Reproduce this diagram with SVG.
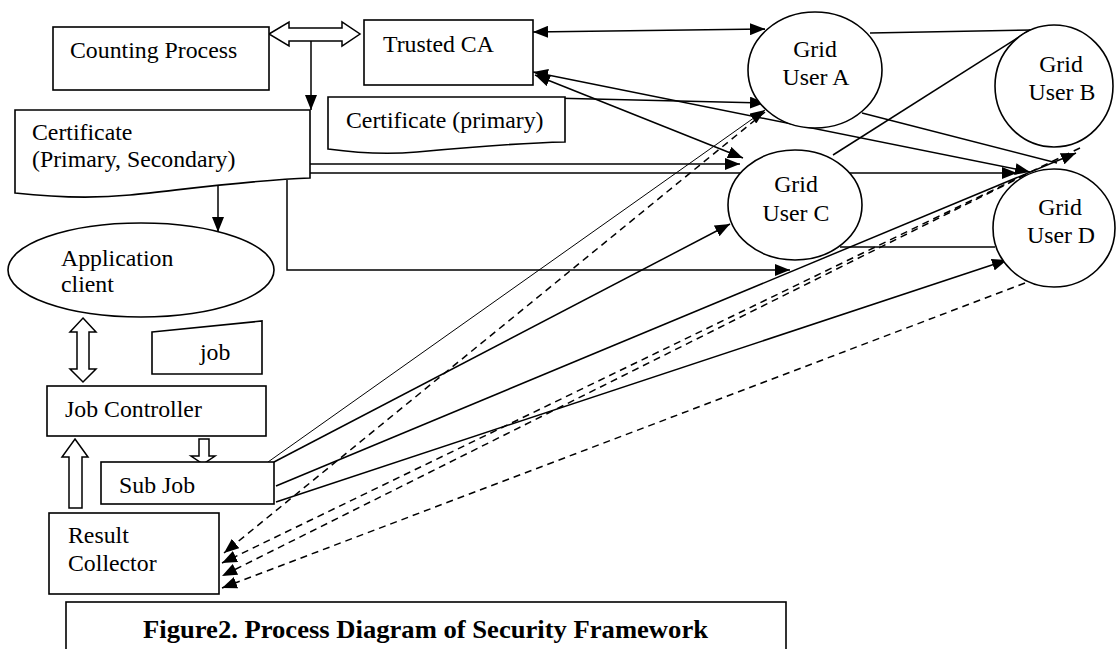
<svg xmlns="http://www.w3.org/2000/svg" width="1116" height="649" viewBox="0 0 1116 649">
<style>
text{font-family:"Liberation Serif","Times New Roman",serif;font-size:23.8px;fill:#000}
.n{fill:#fff;stroke:#000;stroke-width:1.6}
.c{fill:none;stroke:#000;stroke-width:1.5}
.t{fill:none;stroke:#000;stroke-width:1}
.d{fill:none;stroke:#000;stroke-width:1.5;stroke-dasharray:7 5}
.h{fill:#fff;stroke:#000;stroke-width:1.5}
.mid{text-anchor:middle}
.cap{font-weight:bold;font-size:26px}
</style>
<defs>
<marker id="ah" markerUnits="userSpaceOnUse" markerWidth="15" markerHeight="12" refX="15" refY="6" orient="auto-start-reverse" viewBox="0 0 15 12"><path d="M0,0 L15,6 L0,12 z" fill="#000"/></marker>
</defs>
<rect width="1116" height="649" fill="#fff"/>
<g id="connectors">
<path class="c" d="M533,32 L765,29" marker-start="url(#ah)" marker-end="url(#ah)"/>
<path class="c" d="M535,75 L743,158" marker-start="url(#ah)" marker-end="url(#ah)"/>
<path class="c" d="M533,72 L1030,172" marker-start="url(#ah)" marker-end="url(#ah)"/>
<path class="c" d="M550,98 L765,103" marker-end="url(#ah)"/>
<path class="c" d="M310,164 L740,164" marker-end="url(#ah)"/>
<path class="c" d="M310,173 L1017,173" marker-end="url(#ah)"/>
<path class="c" d="M287,180 V270 H790" marker-end="url(#ah)"/>
<path class="c" d="M218,186 V232" marker-end="url(#ah)"/>
<path class="c" d="M311,41 V110" marker-end="url(#ah)"/>
<path class="t" d="M268,462 L765,110" marker-end="url(#ah)"/>
<path class="c" d="M274,462 L730,224" marker-end="url(#ah)"/>
<path class="c" d="M276,486 L1076,153" marker-end="url(#ah)"/>
<path class="c" d="M276,502 L1007,260" marker-end="url(#ah)"/>
<path class="c" d="M870,33 L1033,30"/>
<path class="c" d="M833,155 L1030,30"/>
<path class="c" d="M862,113 L1057,163"/>
<path class="c" d="M840,247 L995,247"/>
<path class="d" d="M765,112 L224,553" marker-end="url(#ah)"/>
<path class="d" d="M1080,148 L222,563" marker-end="url(#ah)"/>
<path class="d" d="M1025,175 L222,576" marker-end="url(#ah)"/>
<path class="d" d="M1025,283 L222,588" marker-end="url(#ah)"/>
<polygon class="h" points="269,34 289,22 289,28 342,28 342,22 360,34 342,46 342,41 289,41 289,46"/>
<polygon class="h" points="83,318 96,332 89,332 89,369 96,369 83,382 70,369 77,369 77,332 70,332"/>
<polygon class="h" points="199,439 209,439 209,456 215,456 203,464 191,456 199,456"/>
<polygon class="h" points="75,439 88,457 82,457 82,508 69,508 69,457 62,457"/>
</g>
<g id="counting-process">
<rect class="n" x="53" y="27" width="216" height="63"/>
<text x="70" y="58">Counting Process</text>
</g>
<g id="trusted-ca">
<rect class="n" x="364" y="20" width="169" height="65"/>
<text x="383" y="52">Trusted CA</text>
</g>
<g id="certificate-ps">
<path class="n" d="M15,110 H310 V178 C250,180 180,190 130,195 C100,198 60,198 15,193 Z"/>
<text x="32" y="140">Certificate</text>
<text x="32" y="167">(Primary, Secondary)</text>
</g>
<g id="certificate-primary">
<path class="n" d="M328,97 H565 V142 C520,143 470,147 417,152 C380,155 350,152 328,149 Z"/>
<text x="346" y="128">Certificate (primary)</text>
</g>
<g id="application-client">
<ellipse class="n" cx="141" cy="270" rx="133" ry="47"/>
<text x="61" y="266">Application</text>
<text x="61" y="292">client</text>
</g>
<g id="job">
<path class="n" d="M152,332 L262,321 V374 H152 Z"/>
<text x="200" y="360">job</text>
</g>
<g id="job-controller">
<rect class="n" x="47" y="386" width="219" height="50"/>
<text x="65" y="417">Job Controller</text>
</g>
<g id="sub-job">
<rect class="n" x="101" y="462" width="173" height="42"/>
<text x="119" y="493">Sub Job</text>
</g>
<g id="result-collector">
<rect class="n" x="49" y="513" width="170" height="81"/>
<text x="68" y="543">Result</text>
<text x="68" y="571">Collector</text>
</g>
<g id="grid-user-a">
<ellipse class="n" cx="815" cy="70" rx="67" ry="58"/>
<text class="mid" x="815" y="57">Grid</text>
<text class="mid" x="816" y="85">User A</text>
</g>
<g id="grid-user-b">
<ellipse class="n" cx="1054" cy="86" rx="59" ry="61"/>
<text class="mid" x="1061" y="72">Grid</text>
<text class="mid" x="1062" y="100">User B</text>
</g>
<g id="grid-user-c">
<ellipse class="n" cx="795" cy="205" rx="67" ry="55"/>
<text class="mid" x="796" y="192">Grid</text>
<text class="mid" x="796" y="221">User C</text>
</g>
<g id="grid-user-d">
<ellipse class="n" cx="1054" cy="228" rx="61" ry="59"/>
<text class="mid" x="1060" y="215">Grid</text>
<text class="mid" x="1061" y="243">User D</text>
</g>
<g id="caption">
<rect class="n" x="66" y="602" width="720" height="60"/>
<text class="cap" x="143" y="638" textLength="565" lengthAdjust="spacingAndGlyphs">Figure2. Process Diagram of Security Framework</text>
</g>
</svg>
